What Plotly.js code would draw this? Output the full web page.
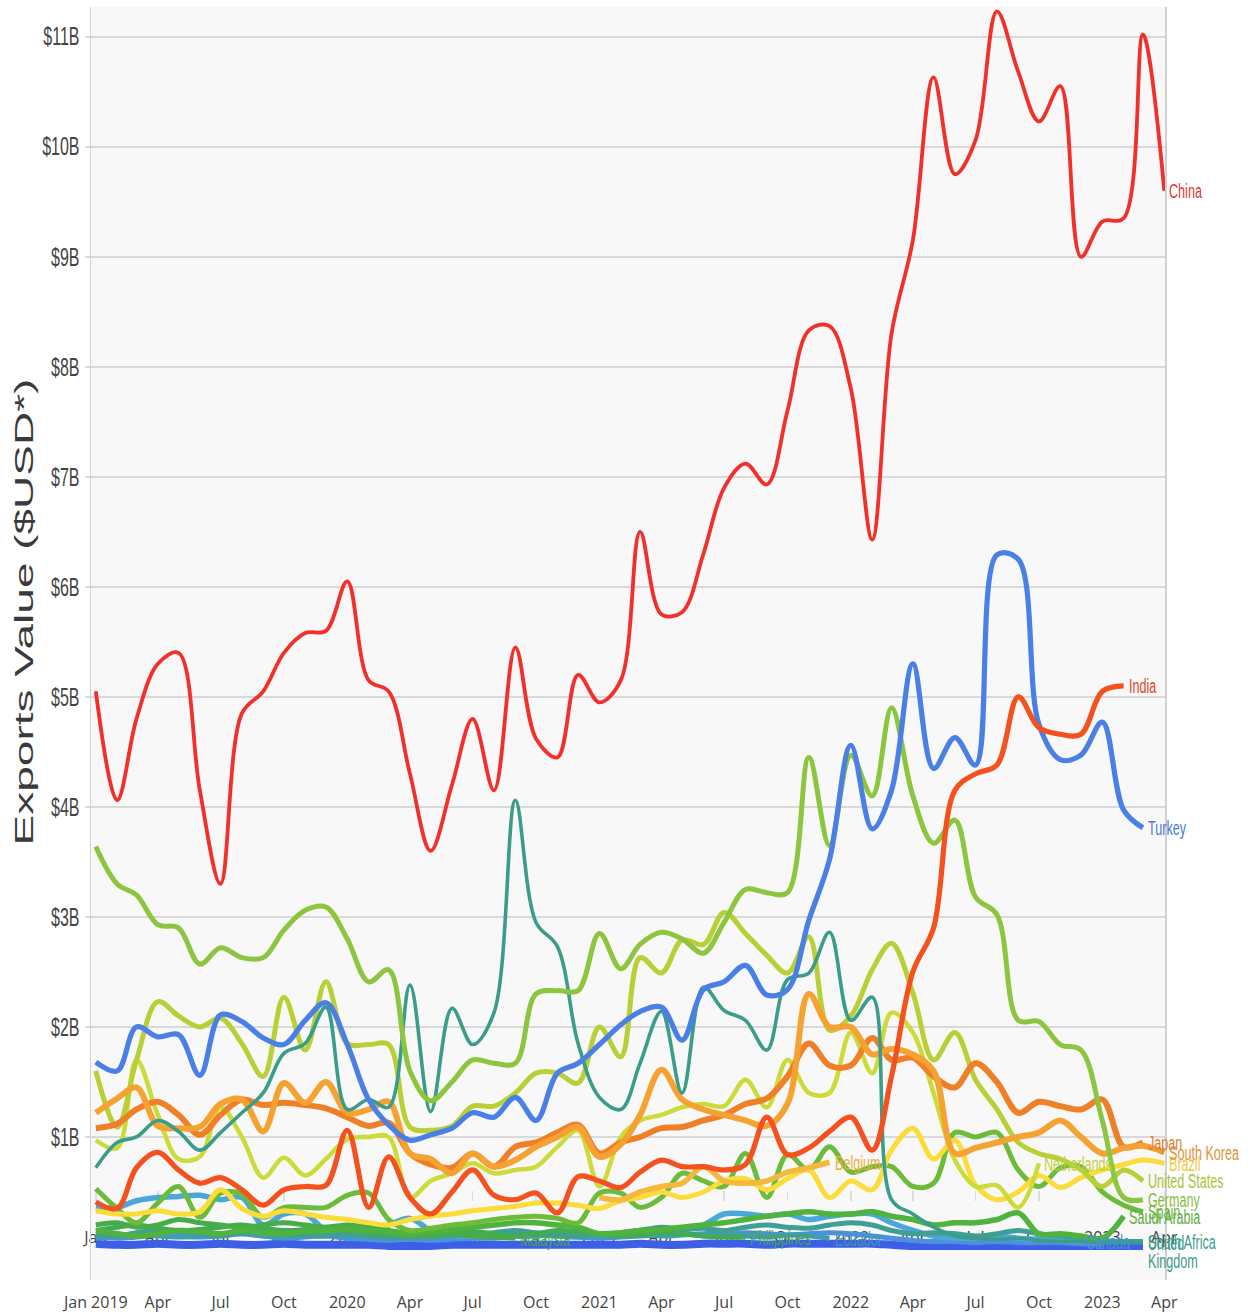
<!DOCTYPE html>
<html>
<head>
<meta charset="utf-8">
<script src="https://cdn.plot.ly/plotly-3.0.1.min.js"></script>
<style>
  html, body { margin: 0; padding: 0; background: #ffffff; }
  #chart { width: 1248px; height: 1314px; }
</style>
</head>
<body>
<div id="chart"></div>
<script>
// ---- Data (values in billions of USD) ----
const months = [
  '2019-01-01','2019-02-01','2019-03-01','2019-04-01','2019-05-01','2019-06-01','2019-07-01','2019-08-01','2019-09-01','2019-10-01','2019-11-01','2019-12-01',
  '2020-01-01','2020-02-01','2020-03-01','2020-04-01','2020-05-01','2020-06-01','2020-07-01','2020-08-01','2020-09-01','2020-10-01','2020-11-01','2020-12-01',
  '2021-01-01','2021-02-01','2021-03-01','2021-04-01','2021-05-01','2021-06-01','2021-07-01','2021-08-01','2021-09-01','2021-10-01','2021-11-01','2021-12-01',
  '2022-01-01','2022-02-01','2022-03-01','2022-04-01','2022-05-01','2022-06-01','2022-07-01','2022-08-01','2022-09-01','2022-10-01','2022-11-01','2022-12-01',
  '2023-01-01','2023-02-01','2023-03-01','2023-04-01'
];

const china = [5.05,4.06,4.8,5.3,5.4,4.15,3.3,4.85,5.05,5.4,5.58,5.6,
  6.05,5.15,5.05,4.3,3.6,4.2,4.8,4.15,5.45,4.62,4.45,5.2,
  4.95,5.15,6.5,5.75,5.77,6.3,6.9,7.12,6.93,7.6,8.33,8.37,
  7.8,6.43,8.3,9.15,10.63,9.75,10.06,11.23,10.68,10.23,10.55,9.0,
  9.32,9.35,11.02,9.6];
const india = [0.41,0.35,0.72,0.86,0.7,0.58,0.63,0.52,0.38,0.52,0.55,0.56,
  1.06,0.36,0.82,0.45,0.3,0.5,0.7,0.47,0.43,0.49,0.31,0.64,
  0.6,0.54,0.68,0.79,0.73,0.73,0.7,0.75,1.18,0.84,0.9,1.05,
  1.18,0.88,1.55,2.5,2.9,4.15,4.3,4.38,5.0,4.72,4.66,4.66,
  5.05,5.1];
const turkey = [1.68,1.6,2.0,1.91,1.93,1.56,2.11,2.05,1.9,1.84,2.06,2.22,
  1.84,1.34,1.11,0.97,1.02,1.08,1.22,1.18,1.36,1.15,1.58,1.67,
  1.84,2.02,2.14,2.18,1.88,2.34,2.41,2.56,2.29,2.34,2.97,3.52,
  4.56,3.8,4.15,5.3,4.35,4.63,4.38,6.29,6.25,4.75,4.43,4.47,
  4.77,3.97,3.81];
const germany = [3.64,3.3,3.2,2.93,2.9,2.57,2.72,2.63,2.63,2.88,3.06,3.09,
  2.8,2.41,2.52,1.6,1.33,1.5,1.7,1.67,1.67,2.3,2.33,2.33,
  2.85,2.53,2.75,2.86,2.8,2.67,2.95,3.25,3.22,3.22,4.45,3.65,
  4.47,4.1,4.9,4.1,3.67,3.88,3.18,3.02,2.06,2.05,1.84,1.79,
  1.15,0.45,0.43];
const unitedKingdom = [0.72,0.95,1.0,1.15,1.05,0.88,1.04,1.22,1.4,1.76,1.85,2.18,
  1.25,1.34,1.27,2.38,1.23,2.17,1.84,2.13,4.06,2.95,2.73,1.85,
  1.36,1.25,1.67,2.14,1.4,2.36,2.15,2.06,1.79,2.43,2.49,2.86,
  2.06,2.27,0.43,0.3,0.18,0.1,0.08,0.07,0.08,0.06,0.05,0.05,
  0.04,0.04,0.04];
const unitedStates = [1.6,1.09,1.7,2.23,2.1,2.0,2.08,1.85,1.55,2.27,1.79,2.41,
  1.85,1.84,1.84,1.09,1.06,1.1,1.28,1.28,1.4,1.58,1.58,1.49,
  2.0,1.73,2.63,2.49,2.79,2.75,3.04,2.85,2.65,2.49,2.82,1.97,
  2.1,2.52,2.76,2.31,1.7,1.95,1.52,1.25,0.95,0.85,0.8,0.7,
  0.55,0.7,0.6];
const netherlands = [0.97,0.9,1.7,1.2,0.8,0.82,1.27,1.0,0.63,0.81,0.65,0.8,
  0.98,1.0,1.0,0.45,0.6,0.67,0.76,0.67,0.7,0.73,0.91,1.06,
  0.55,1.0,1.15,1.2,1.27,1.3,1.28,1.52,1.27,1.7,1.4,1.4,
  1.95,1.58,2.13,1.95,1.4,0.79,0.55,0.56,0.36,0.76];
const japan = [1.08,1.12,1.25,1.32,1.2,1.02,1.2,1.34,1.29,1.31,1.29,1.26,
  1.18,1.1,1.13,0.85,0.75,0.72,0.85,0.73,0.91,0.95,1.04,1.11,
  0.85,0.95,1.0,1.08,1.09,1.15,1.2,1.3,1.35,1.55,1.85,1.65,
  1.65,1.9,1.7,1.72,1.55,1.45,1.67,1.5,1.22,1.32,1.28,1.25,
  1.34,0.91,0.95];
const southKorea = [1.22,1.35,1.45,1.1,1.08,1.09,1.3,1.34,1.05,1.49,1.31,1.5,
  1.22,1.25,1.32,0.85,0.8,0.67,0.85,0.73,0.79,0.91,1.0,1.09,
  0.82,0.93,1.2,1.61,1.34,1.25,1.2,1.15,1.1,1.3,2.3,2.0,
  2.0,1.75,1.8,1.75,1.6,0.85,0.9,0.95,1.0,1.04,1.15,1.0,
  0.85,0.9,0.92,0.86];
const brazil = [0.33,0.3,0.3,0.33,0.3,0.32,0.52,0.35,0.28,0.33,0.3,0.27,
  0.25,0.22,0.2,0.25,0.28,0.3,0.33,0.35,0.37,0.4,0.4,0.38,
  0.35,0.42,0.45,0.5,0.45,0.5,0.6,0.62,0.52,0.62,0.7,0.45,
  0.6,0.52,0.88,1.08,0.8,0.97,0.56,0.43,0.5,0.65,0.54,0.63,
  0.7,0.75,0.79,0.76];
const belgium = [null,null,null,null,null,null,null,null,null,null,null,null,
  null,null,null,null,null,null,null,null,null,null,null,null,
  0.45,0.43,0.5,0.55,0.58,0.73,0.6,0.58,0.6,0.68,0.72,0.77];
const spain = [0.53,0.35,0.22,0.4,0.55,0.27,0.49,0.48,0.27,0.36,0.36,0.36,
  0.47,0.49,0.25,0.15,0.17,0.2,0.22,0.25,0.27,0.28,0.26,0.22,
  0.49,0.49,0.36,0.45,0.67,0.6,0.55,0.85,0.45,0.84,0.7,0.91,
  0.68,0.73,0.73,0.55,0.58,1.04,1.0,1.04,0.7,0.55,0.72,0.73,
  0.5,0.38,0.32];
const saudiArabia = [0.15,0.12,0.1,0.12,0.15,0.14,0.12,0.15,0.13,0.12,0.14,0.15,
  0.16,0.15,0.14,0.12,0.14,0.16,0.18,0.2,0.22,0.22,0.2,0.18,
  0.12,0.13,0.15,0.16,0.18,0.2,0.22,0.25,0.28,0.3,0.32,0.3,
  0.3,0.32,0.28,0.25,0.2,0.22,0.22,0.25,0.31,0.12,0.12,0.1,
  0.08,0.28];
const malaysia = [0.2,0.22,0.18,0.2,0.25,0.22,0.2,0.18,0.2,0.22,0.2,0.18,
  0.2,0.18,0.15,0.12,0.1,0.12,0.1,0.09,0.08];
const philippines = [0.15,0.18,0.2,0.17,0.15,0.16,0.18,0.2,0.17,0.15,0.16,0.18,
  0.15,0.13,0.12,0.1,0.11,0.13,0.14,0.12,0.1,0.12,0.15,0.14,
  0.12,0.1,0.11,0.13,0.12,0.1,0.09,0.09];
const southAfrica = [0.12,0.1,0.13,0.15,0.14,0.12,0.1,0.13,0.15,0.12,0.11,0.1,
  0.12,0.1,0.08,0.09,0.1,0.12,0.11,0.13,0.15,0.13,0.12,0.1,
  0.12,0.13,0.15,0.18,0.16,0.17,0.15,0.18,0.2,0.18,0.17,0.2,
  0.22,0.2,0.15,0.12,0.13,0.12,0.1,0.12,0.15,0.12,0.1,0.08,
  0.06,0.05,0.05];
const ecuador = [0.08,0.1,0.12,0.1,0.09,0.1,0.11,0.12,0.1,0.09,0.1,0.11,
  0.1,0.09,0.08,0.1,0.09,0.1,0.11,0.1,0.12,0.11,0.1,0.09,
  0.1,0.11,0.12,0.1,0.11,0.12,0.13,0.1,0.09,0.11,0.1,0.08];
const canada = [0.36,0.36,0.42,0.45,0.46,0.47,0.43,0.45,0.2,0.3,0.3,0.15,
  0.12,0.15,0.2,0.26,0.15,0.1,0.1,0.12,0.1,0.1,0.12,0.12,
  0.1,0.12,0.15,0.14,0.15,0.2,0.3,0.3,0.28,0.3,0.25,0.28,
  0.3,0.3,0.22,0.15,0.1,0.08,0.08,0.1,0.08,0.07,0.06,0.05];
const sweden = [0.1,0.08,0.09,0.11,0.1,0.09,0.1,0.12,0.1,0.08,0.09,0.1,
  0.08,0.07,0.06,0.07,0.06,0.07,0.08,0.08,0.1,0.12,0.1,0.09,
  0.08,0.09,0.1,0.11,0.12,0.1,0.11,0.13,0.12,0.11,0.12,0.13,
  0.12,0.1,0.08,0.06,0.05,0.05,0.04,0.05,0.04,0.04,0.04,0.03,
  0.03];
const australia = [0.03,0.02,0.02,0.03,0.02,0.02,0.03,0.02,0.02,0.03,0.02,0.02,
  0.02,0.02,0.01,0.01,0.01,0.02,0.02,0.02,0.02,0.02,0.02,0.02,
  0.02,0.02,0.03,0.02,0.02,0.03,0.03,0.03,0.02,0.03,0.03,0.03,
  0.03,0.03,0.02,0.01,0.01,0.01,0.01,0.01,0.01,0.01,0.01,0.01,
  0.01,0.01,0.01];

const yTickVals = [1,2,3,4,5,6,7,8,9,10,11];
const yTickText = ['$1B','$2B','$3B','$4B','$5B','$6B','$7B','$8B','$9B','$10B','$11B'];
const xTickVals = ['2019-01-01','2019-04-01','2019-07-01','2019-10-01','2020-01-01','2020-04-01','2020-07-01','2020-10-01',
  '2021-01-01','2021-04-01','2021-07-01','2021-10-01','2022-01-01','2022-04-01','2022-07-01','2022-10-01','2023-01-01','2023-04-01'];
const xTickTextBottom = ['Jan 2019','Apr','Jul','Oct','2020','Apr','Jul','Oct','2021','Apr','Jul','Oct','2022','Apr','Jul','Oct','2023','Apr'];
const xTickTextInner = ['Jan','Apr','Jul','Oct','2020','Apr','Jul','Oct','2021','Apr','Jul','Oct','2022','Apr','Jul','Oct','2023','Apr'];

// drawing order: first = bottom
const series = [
  {name:'Australia', y:australia, color:'#3d5fe6', w:8, label:''},
  {name:'Sweden', y:sweden, color:'#4e90e0', w:5, label:''},
  {name:'Canada', y:canada, color:'#4aa8d8', w:5.5, label:'Canada'},
  {name:'Ecuador', y:ecuador, color:'#3e9fb2', w:5, label:'Ecuador'},
  {name:'South Africa', y:southAfrica, color:'#3f9f95', w:5, label:'South Africa'},
  {name:'Philippines', y:philippines, color:'#42ab55', w:5, label:'Philippines'},
  {name:'Malaysia', y:malaysia, color:'#47ae47', w:5, label:'Malaysia'},
  {name:'Saudi Arabia', y:saudiArabia, color:'#4fb33e', w:5.5, label:'Saudi Arabia'},
  {name:'Spain', y:spain, color:'#6cbc3a', w:5, label:'Spain'},
  {name:'Brazil', y:brazil, color:'#fbdc38', w:5, label:'Brazil'},
  {name:'Belgium', y:belgium, color:'#f4b83c', w:5.5, label:'Belgium'},
  {name:'Netherlands', y:netherlands, color:'#cddb38', w:4.5, label:'Netherlands'},
  {name:'United States', y:unitedStates, color:'#b9cf36', w:5, label:'United States'},
  {name:'Japan', y:japan, color:'#f08028', w:6, label:'Japan'},
  {name:'South Korea', y:southKorea, color:'#f6a233', w:6, label:'South Korea'},
  {name:'United Kingdom', y:unitedKingdom, color:'#3a9d8a', w:3.6, label:'United'},
  {name:'Germany', y:germany, color:'#8cc63e', w:5, label:'Germany'},
  {name:'Turkey', y:turkey, color:'#4a7fe6', w:5.2, label:'Turkey'},
  {name:'India', y:india, color:'#f4511e', w:5.2, label:'India'},
  {name:'China', y:china, color:'#f2302b', w:3.8, label:'China'}
];

const labelColors = {
  'China':'#e03a35','India':'#e2452a','Turkey':'#4a78d8','Japan':'#e08030','South Korea':'#e3913a',
  'Brazil':'#f0c840','United States':'#a9c23a','Germany':'#86bd40','Spain':'#6cb640','Saudi Arabia':'#5cae40',
  'South Africa':'#3f9c90','United Kingdom':'#3c9a88','Canada':'#4a8fd0','Belgium':'#e8b03c',
  'Netherlands':'#c0d040','Malaysia':'#48a848','Philippines':'#44a654','Ecuador':'#3f98b0'
};

const traces = series.map(s => ({
  type:'scatter', mode:'lines', name:s.name,
  x: months.slice(0, s.y.length), y: s.y,
  xaxis:'x', yaxis:'y',
  line:{color:s.color, width:s.w, shape:'spline', smoothing:1},
  hoverinfo:'skip', showlegend:false
}));

const labelFont = 'Liberation Sans, Arial, sans-serif';
const annotations = [];
series.forEach(s => {
  if (!s.label) return;
  const n = s.y.length;
  const c = labelColors[s.name] || s.color;
  annotations.push({
    x: months[n-1], y: s.y[n-1], xref:'x', yref:'y',
    text: s.label, showarrow:false, xanchor:'left', yanchor:'middle', xshift:3,
    align:'left', font:{family:labelFont, size:21, color:c}
  });
  if (s.name === 'United Kingdom') {
    annotations.push({
      x: months[n-1], y: s.y[n-1], xref:'x', yref:'y',
      text: 'Kingdom', showarrow:false, xanchor:'left', yanchor:'middle', xshift:3, yshift:-18,
      align:'left', font:{family:labelFont, size:21, color:c}
    });
  }
});

const xRange = ['2018-12-25','2023-04-02'];

const layout = {
  width:1248, height:1314,
  margin:{l:91, r:83, t:7, b:34, pad:0},
  paper_bgcolor:'#ffffff', plot_bgcolor:'#f8f8f8',
  showlegend:false, hovermode:false,
  xaxis:{
    type:'date', range:xRange, anchor:'free', position:0.0707,
    tickmode:'array', tickvals:xTickVals, ticktext:xTickTextInner,
    ticks:'outside', ticklen:10, tickwidth:1.5, tickcolor:'#dddddd',
    showgrid:false, zeroline:false, showline:false, layer:'below traces',
    ticklabelstandoff:23,
    tickfont:{family:'Open Sans, sans-serif', size:16, color:'#444444'}
  },
  xaxis2:{
    type:'date', range:xRange, overlaying:'x', anchor:'y', side:'bottom',
    tickmode:'array', tickvals:xTickVals, ticktext:xTickTextBottom,
    ticks:'', showgrid:false, zeroline:false, showline:false,
    ticklabelstandoff:11,
    tickfont:{family:'Open Sans, sans-serif', size:16, color:'#444444'}
  },
  yaxis:{
    range:[-0.3, 11.27], anchor:'x',
    tickmode:'array', tickvals:yTickVals, ticktext:yTickText,
    showgrid:true, gridcolor:'#d9d9d9', gridwidth:2,
    ticks:'outside', ticklen:5, tickcolor:'#d9d9d9', tickwidth:2,
    showline:true, linecolor:'#d0d0d0', linewidth:1.5, mirror:true,
    zeroline:false,
    tickfont:{family:'Liberation Sans, Arial, sans-serif', size:25, color:'#444444'},
    title:{text:'Exports Value ($USD*)', standoff:10,
      font:{family:'Liberation Sans, Arial, sans-serif', size:46, color:'#3a3a3a'}}
  },
  annotations: annotations
};

// an empty trace so that the bottom label axis (xaxis2) is rendered
traces.unshift({type:'scatter', mode:'lines', x:[xRange[0]], y:[null], xaxis:'x2', yaxis:'y',
  hoverinfo:'skip', showlegend:false});

function squish(el, s, mode, targetX, dy) {
  const r = el.getBoundingClientRect();
  const parent = el.parentNode;
  const M = parent.getScreenCTM();
  if (!M) return;
  const inv = M.inverse();
  const svg = el.ownerSVGElement;
  const pt = svg.createSVGPoint();
  const sx = mode === 'right' ? r.right : (mode === 'left' ? r.left : (r.left + r.right) / 2);
  pt.x = sx; pt.y = r.top;
  const tx = pt.matrixTransform(inv).x;
  let target = tx;
  if (targetX != null) { pt.x = targetX; target = pt.matrixTransform(inv).x; }
  const g = document.createElementNS('http://www.w3.org/2000/svg', 'g');
  g.setAttribute('transform', 'translate(' + target + ',' + (dy || 0) + ') scale(' + s + ',1) translate(' + (-tx) + ',0)');
  parent.insertBefore(g, el);
  g.appendChild(el);
}

Plotly.newPlot('chart', traces, layout, {staticPlot:true, displayModeBar:false, responsive:false}).then(gd => {
  gd.querySelectorAll('.ytick text').forEach(t => squish(t, 0.64, 'right'));
  gd.querySelectorAll('text.annotation-text').forEach(t => squish(t, 0.6, 'left'));
  const yt = gd.querySelector('.ytitle');
  if (yt) {
    const r = yt.getBoundingClientRect();
    const cy = (r.top + r.bottom) / 2;
    squish(yt, 0.56, 'center', 24, 612 - cy);
  }
});
</script>
</body>
</html>
